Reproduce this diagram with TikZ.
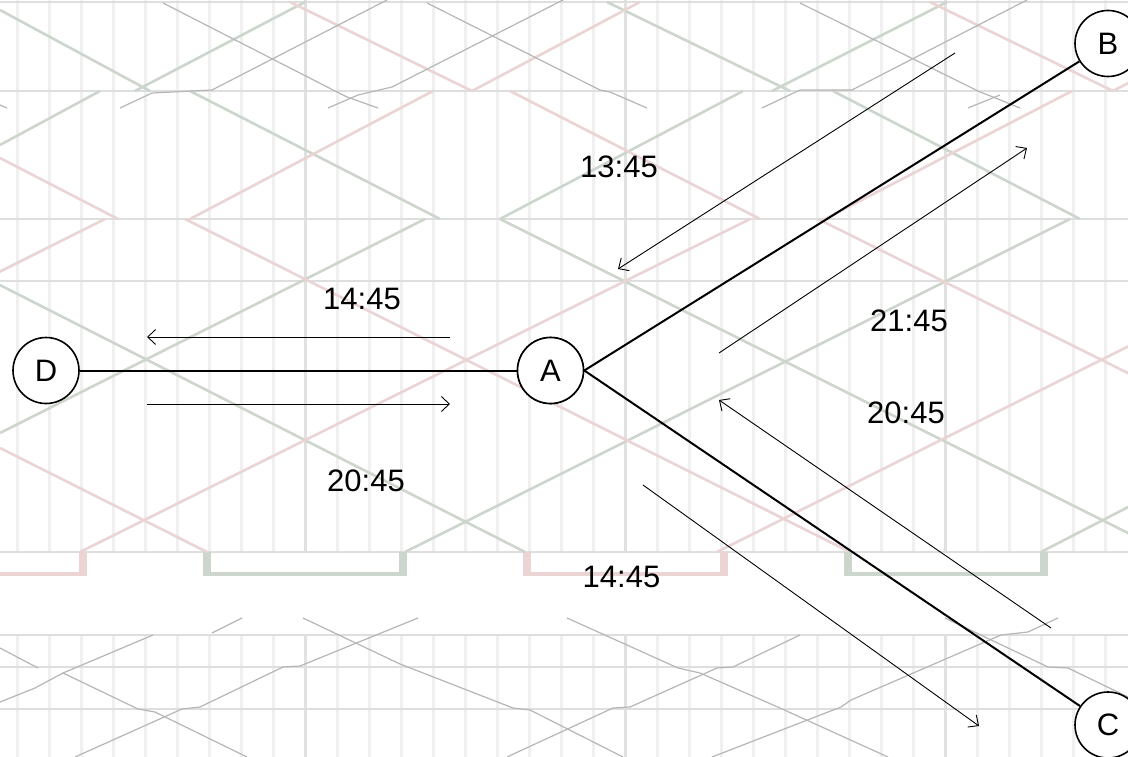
\documentclass[tikz,border=0pt]{standalone}
\usepackage{fontspec}
\setmainfont{Liberation Sans}
\usetikzlibrary{arrows.meta}
\definecolor{pinkc}{RGB}{234,212,212}
\definecolor{greenc}{RGB}{204,214,204}
\definecolor{grayc}{RGB}{182,182,182}
\definecolor{vlc}{RGB}{240,240,240}
\definecolor{vdc}{RGB}{225,225,225}
\definecolor{hlc}{RGB}{222,222,222}
\begin{document}
\begin{tikzpicture}[x=1pt,y=-1pt,
  vline/.style={draw=vlc, line width=3pt},
  vdark/.style={draw=vdc, line width=3pt},
  hline/.style={draw=hlc, line width=2pt},
  pinkl/.style={draw=pinkc, line width=2.6pt, line join=round},
  greenl/.style={draw=greenc, line width=2.6pt, line join=round},
  grayl/.style={draw=grayc, line width=1.2pt, line join=round},
  bracketv/.style={line width=7.5pt},
  brackeths/.style={line width=4.5pt},
  station/.style={circle, draw=black, line width=1.6pt, fill=white, minimum size=66pt, inner sep=0pt, font=\fontsize{31}{31}\selectfont},
  edgeline/.style={draw=black, line width=2pt},
  flow/.style={draw=black, line width=0.9pt, -{Straight Barb[length=8pt,width=15pt]}},
  lbl/.style={font=\fontsize{31}{31}\selectfont, inner sep=0pt}
]
\useasboundingbox (0,0) rectangle (1128,757);
\begin{scope}
\clip (0,0) rectangle (1128,757);
\fill[white] (0,0) rectangle (1128,757);
% vertical grid
\foreach \k in {0,...,34} {
  \pgfmathsetmacro\xx{17+32*\k}
  \draw[vline] (\xx,0) -- (\xx,552);
  \draw[vline] (\xx,635) -- (\xx,757);
}
\foreach \xx in {305,625,945} {
  \draw[vdark] (\xx,0) -- (\xx,552);
  \draw[vdark] (\xx,635) -- (\xx,757);
}
% horizontal grid
\foreach \yy in {2,91,219,281,552,635,667,709} {
  \draw[hline] (0,\yy) -- (1128,\yy);
}
% brackets
\draw[pinkc, bracketv] (-117,552) -- (-117,576) (83,552) -- (83,576);
\draw[pinkc, brackeths] (-117,574) -- (83,574);
\draw[greenc, bracketv] (207,552) -- (207,576) (403,552) -- (403,576);
\draw[greenc, brackeths] (207,574) -- (403,574);
\draw[pinkc, bracketv] (527,552) -- (527,576) (724,552) -- (724,576);
\draw[pinkc, brackeths] (527,574) -- (724,574);
\draw[greenc, bracketv] (848,552) -- (848,576) (1044,552) -- (1044,576);
\draw[greenc, brackeths] (848,574) -- (1044,574);
% green train lines
\draw[greenl] (0,10) -- (150,91);
\draw[greenl] (135,91) -- (305,2);
\draw[greenl] (607,2) -- (790,91);
\draw[greenl] (772,91) -- (947,2);
\draw[greenl] (0,145) -- (100,91);
\draw[greenl] (190,91) -- (440,219);
\draw[greenl] (500,219) -- (743,91);
\draw[greenl] (833,91) -- (1080,219);
\draw[greenl] (-130,219) -- (525,552);
\draw[greenl] (0,433) -- (425,219);
\draw[greenl] (500,219) -- (1166,552);
\draw[greenl] (405,552) -- (1070,219);
\draw[greenl] (1041,552) -- (1200,470);
% pink train lines
\draw[pinkl] (290,2) -- (472,91);
\draw[pinkl] (472,91) -- (640,2);
\draw[pinkl] (930,2) -- (1113,91);
\draw[pinkl] (1113,91) -- (1140,77);
\draw[pinkl] (0,158) -- (118,219);
\draw[pinkl] (190,219) -- (433,91);
\draw[pinkl] (510,91) -- (760,219);
\draw[pinkl] (825,219) -- (1072,91);
\draw[pinkl] (185,219) -- (850,552);
\draw[pinkl] (750,219) -- (80,552);
\draw[pinkl] (0,448) -- (207,552);
\draw[pinkl] (717,552) -- (1383,219);
\draw[pinkl] (818,219) -- (1150,384);
\draw[pinkl] (105,219) -- (-560,552);
% thin gray lines, top strip
\draw[grayl] (163,3) -- (337,92) -- (347,97) -- (378,108);
\draw[grayl] (387,0) -- (212,90) -- (152,93) -- (120,108);
\draw[grayl] (427,3) -- (600,90) -- (610,92) -- (647,108);
\draw[grayl] (563,0) -- (392,87) -- (358,95) -- (328,108);
\draw[grayl] (1027,0) -- (852,90) -- (800,90) -- (762,108);
\draw[grayl] (800,3) -- (980,92) -- (993,97) -- (1020,108);
\draw[grayl] (968,108) -- (1000,95);
\draw[grayl] (0,105) -- (7,108);
% thin gray lines, bottom strip
\draw[grayl] (0,648) -- (38,668);
\draw[grayl] (0,702) -- (35,688) -- (63,673) -- (153,635);
\draw[grayl] (63,673) -- (138,709) -- (155,712) -- (247,757);
\draw[grayl] (75,757) -- (182,709) -- (200,707) -- (283,667) -- (300,666) -- (418,618);
\draw[grayl] (212,633) -- (242,618);
\draw[grayl] (303,618) -- (400,664) -- (513,708) -- (530,710) -- (623,757);
\draw[grayl] (507,757) -- (613,708) -- (630,707) -- (717,668) -- (733,667) -- (800,635);
\draw[grayl] (567,618) -- (678,668) -- (700,673) -- (780,708) -- (888,757);
\draw[grayl] (712,757) -- (841,707) -- (851,700) -- (1001,635) -- (1028,632) -- (1058,618);
\draw[grayl] (945,618) -- (1048,667) -- (1068,668) -- (1128,697);
\end{scope}

% nodes
\node[station] (A) at (550.5,370.5) {A};
\node[station] (B) at (1108,43.5) {B};
\node[station] (C) at (1108,725) {C};
\node[station] (D) at (46,370.5) {D};

% edges
\draw[edgeline] (D.east) -- (A.west);
\draw[edgeline] (A.east) -- (B);
\draw[edgeline] (A.east) -- (C);
\node[station] at (A) {A};

% flow arrows
\coordinate (f1s) at (955,53);   \coordinate (f1e) at (618,269);
\coordinate (f2s) at (719,353);  \coordinate (f2e) at (1027,148);
\coordinate (f3s) at (450,337);  \coordinate (f3e) at (147,337);
\coordinate (f4s) at (147,404);  \coordinate (f4e) at (450,404);
\coordinate (f5s) at (1051,628); \coordinate (f5e) at (719,400);
\coordinate (f6s) at (643,485);  \coordinate (f6e) at (979,726);
\draw[flow] (f1s) -- (f1e);
\draw[flow] (f2s) -- (f2e);
\draw[flow] (f3s) -- (f3e);
\draw[flow] (f4s) -- (f4e);
\draw[flow] (f5s) -- (f5e);
\draw[flow] (f6s) -- (f6e);

% labels
\node[lbl] (t1) at (619,167) {13:45};
\node[lbl] (t2) at (362,299) {14:45};
\node[lbl] (t3) at (366,481) {20:45};
\node[lbl] (t4) at (621.5,577) {14:45};
\node[lbl] (t5) at (909,321) {21:45};
\node[lbl] (t6) at (906,413) {20:45};
\end{tikzpicture}
\end{document}
